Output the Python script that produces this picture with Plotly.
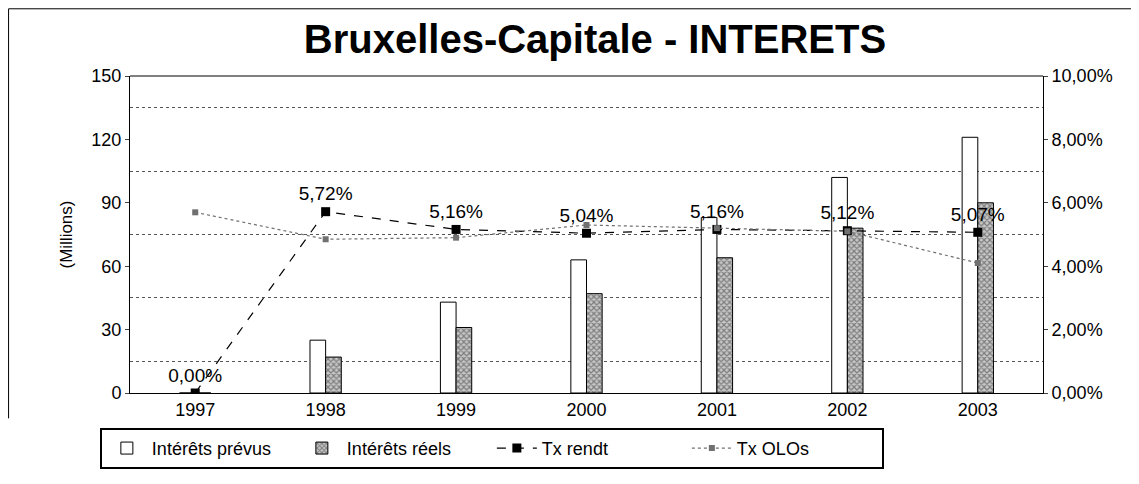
import plotly.graph_objects as go

years = ['1997', '1998', '1999', '2000', '2001', '2002', '2003']
interets_prevus = [0, 25, 43, 63, 83, 102, 121]
interets_reels = [0, 17, 31, 47, 64, 78, 90]
tx_rendt = [0.0, 0.0572, 0.0516, 0.0504, 0.0516, 0.0512, 0.0507]
tx_olos = [0.057, 0.0485, 0.049, 0.053, 0.052, 0.051, 0.041]
rendt_labels = ['0,00%', '5,72%', '5,16%', '5,04%', '5,16%', '5,12%', '5,07%']

font_main = 'Liberation Sans, Arial'

fig = go.Figure()

fig.add_trace(go.Bar(
    x=years, y=interets_prevus, name='Intérêts prévus',
    marker=dict(color='white', line=dict(color='black', width=1)),
))
fig.add_trace(go.Bar(
    x=years, y=interets_reels, name='Intérêts réels',
    marker=dict(color='#909090', line=dict(color='black', width=1),
                pattern=dict(shape='x', fgcolor='#303030', bgcolor='#c8c8c8', size=4, solidity=0.5)),
))
fig.add_trace(go.Scatter(
    x=years, y=tx_rendt, name='Tx rendt', yaxis='y2',
    mode='lines+markers+text', text=rendt_labels, textposition='top center',
    textfont=dict(size=19, color='black', family=font_main),
    line=dict(color='black', width=1.2, dash='dash'),
    marker=dict(symbol='square', size=9, color='black'),
))
fig.add_trace(go.Scatter(
    x=years, y=tx_olos, name='Tx OLOs', yaxis='y2',
    mode='lines+markers',
    line=dict(color='#707070', width=1.2, dash='dot'),
    marker=dict(symbol='square', size=6, color='#707070'),
))

# page body adds an 8px offset, so the figure is sized to fit inside the window
fig.update_layout(
    width=1131, height=476,
    paper_bgcolor='white', plot_bgcolor='white',
    margin=dict(l=122, r=96, t=68, b=91, autoexpand=False),
    font=dict(family=font_main, size=17, color='black'),
    title=dict(text='<b>Bruxelles-Capitale - INTERETS</b>', x=0.519, xanchor='center',
               y=0.935, yanchor='middle', font=dict(size=40, family=font_main)),
    barmode='group', bargap=0.76, bargroupgap=0,
    showlegend=True,
    legend=dict(orientation='h', x=-0.033, xanchor='left', y=-0.11, yanchor='top',
                bordercolor='black', borderwidth=2, font=dict(size=18),
                itemwidth=40, entrywidth=140, tracegroupgap=0),
    xaxis=dict(showline=True, linecolor='black', linewidth=1, ticks='', tickfont=dict(size=18),
               showgrid=False, mirror=False),
    yaxis=dict(title=dict(text='(Millions)', font=dict(size=17), standoff=14),
               range=[0, 150], tickvals=[0, 30, 60, 90, 120, 150], ticks='outside', ticklen=4,
               showline=True, linecolor='black', linewidth=1, showgrid=False, zeroline=False,
               minor=dict(tick0=15, dtick=30, showgrid=True, gridcolor='#555555',
                          griddash='dot', gridwidth=1),
               tickfont=dict(size=18)),
    yaxis2=dict(overlaying='y', side='right', range=[0, 0.10], dtick=0.02, tickformat='.2%',
                ticks='outside', ticklen=4, showline=True, linecolor='black', linewidth=1,
                showgrid=False, zeroline=False, tickfont=dict(size=18)),
    separators=', ',
)

# plot area top border and outer frame (top and left edges)
fig.add_shape(type='line', xref='paper', yref='paper', x0=0, x1=1, y0=1, y1=1,
              line=dict(color='black', width=1))
fig.add_shape(type='line', xref='paper', yref='paper', x0=-0.133, x1=1.11, y0=1.212, y1=1.212,
              line=dict(color='black', width=1))
fig.add_shape(type='line', xref='paper', yref='paper', x0=-0.133, x1=-0.133, y0=-0.08, y1=1.212,
              line=dict(color='black', width=1))

fig.write_html('out.html')
